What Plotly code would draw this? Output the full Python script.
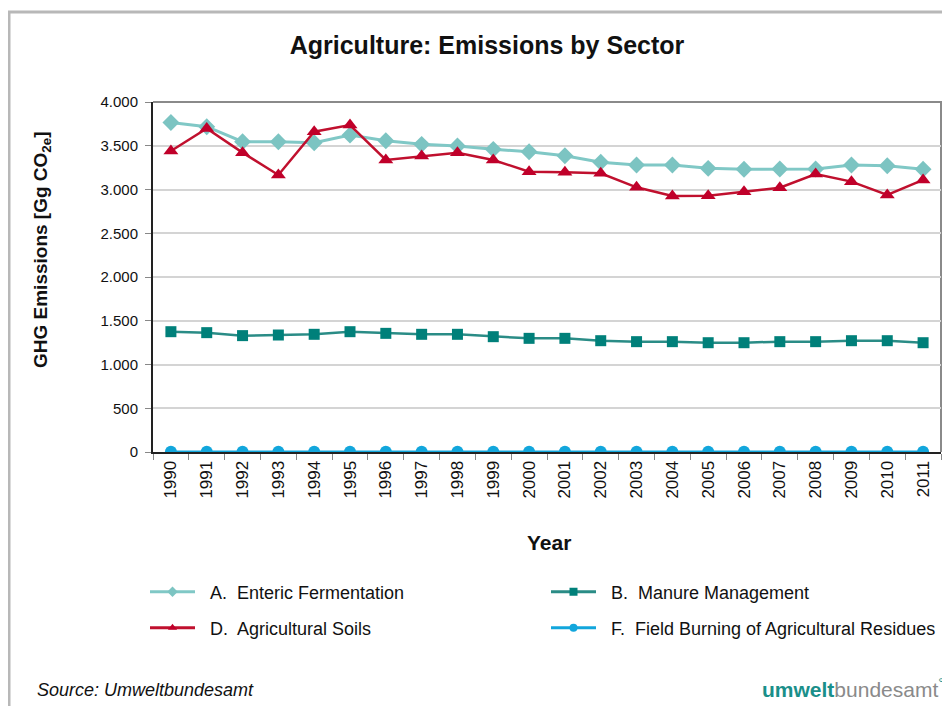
import plotly.graph_objects as go

years = [str(y) for y in range(1990, 2012)]

enteric = [3765, 3718, 3546, 3546, 3535, 3623, 3558, 3516, 3497, 3459, 3432,
           3385, 3311, 3280, 3280, 3242, 3231, 3234, 3234, 3280, 3272, 3231]
manure = [1375, 1364, 1330, 1337, 1345, 1375, 1356, 1345, 1345, 1318, 1299,
          1299, 1272, 1261, 1261, 1249, 1249, 1261, 1261, 1272, 1272, 1249]
soils = [3440, 3697, 3421, 3166, 3660, 3737, 3337, 3383, 3421, 3337, 3204,
         3196, 3185, 3025, 2926, 2930, 2975, 3021, 3177, 3090, 2937, 3109]
burning = [4, 4, 4, 3, 4, 4, 3, 3, 3, 3, 3, 3, 3, 3, 3, 3, 3, 3, 3, 3, 3, 3]

names = ["A.  Enteric Fermentation", "B.  Manure Management",
         "D.  Agricultural Soils", "F.  Field Burning of Agricultural Residues"]

FONT = "Liberation Sans, Arial, sans-serif"

# the page has an 8px body margin: reference pixel p -> figure pixel p - 8
OFF = 8
W, H = 950 - OFF, 706 - OFF
L, R, T, B = 153 - OFF, 941 - OFF, 102 - OFF, 452 - OFF
pw, ph = R - L, B - T


def px(x):  # reference pixel -> paper x
    return (x - OFF - L) / pw


def py(y):  # reference pixel -> paper y
    return (B - (y - OFF)) / ph


series = [
    (enteric, names[0], "#80c8c6", "#7cc4c2", "diamond", 13, 3, "legend"),
    (manure, names[1], "#2a8c86", "#00807a", "square", 11, 2.5, "legend"),
    (soils, names[2], "#c0102e", "#c0002a", "triangle-up", 13, 2.5, "legend2"),
    (burning, names[3], "#12a6dc", "#12a6dc", "circle", 12, 2.5, "legend2"),
]

fig = go.Figure()
for vals, name, lc, mc, sym, size, lw, leg in series:
    fig.add_trace(go.Scatter(x=years, y=vals, name=name, mode="lines+markers",
                             line=dict(color=lc, width=lw),
                             marker=dict(symbol=sym, size=size, color=mc),
                             showlegend=False))
# legend entries (small markers as in the reference legend)
for vals, name, lc, mc, sym, size, lw, leg in series:
    fig.add_trace(go.Scatter(x=[None], y=[None], name="\u00a0\u00a0" + name,
                             mode="lines+markers",
                             line=dict(color=lc, width=3),
                             marker=dict(symbol=sym, size=8, color=mc),
                             legend=leg, showlegend=True))

legend_common = dict(orientation="h", xanchor="left", yanchor="middle",
                     font=dict(family=FONT, size=18, color="#111111"),
                     bgcolor="rgba(0,0,0,0)", entrywidth=341, entrywidthmode="pixels",
                     itemwidth=45, traceorder="normal")

fig.update_layout(
    width=W, height=H,
    margin=dict(l=L, r=W - R, t=T, b=H - B, autoexpand=False),
    paper_bgcolor="white", plot_bgcolor="white",
    separators=",.",
    showlegend=True,
    title=dict(text="<b>Agriculture: Emissions by Sector</b>", x=(487 - OFF) / W,
               xref="container", xanchor="center", y=1 - (45 - OFF) / H,
               yref="container", yanchor="middle",
               font=dict(family=FONT, size=25, color="#111111")),
    legend=dict(x=px(145), y=py(592), **legend_common),
    legend2=dict(x=px(145), y=py(628), **legend_common),
    xaxis=dict(type="category", range=[-0.5, 21.5], tickangle=-90,
               tickfont=dict(family=FONT, size=17, color="#111111"),
               showline=True, linecolor="#222222", linewidth=2,
               ticks="outside", tickson="boundaries", ticklen=6, tickcolor="#888888",
               showgrid=False, zeroline=False, automargin=False),
    yaxis=dict(range=[0, 4000], tickvals=list(range(0, 4001, 500)), tickformat=",d",
               tickfont=dict(family=FONT, size=15, color="#111111"),
               ticklabelstandoff=4,
               showline=True, linecolor="#222222", linewidth=2,
               ticks="outside", ticklen=6, tickcolor="#888888",
               showgrid=True, gridcolor="#d4d4d4", gridwidth=2,
               zeroline=False, automargin=False),
)

# plot area top/right border (gray)
fig.add_shape(type="path", xref="paper", yref="paper",
              path="M 0,1 L 1,1 L 1,0", line=dict(color="#8a8a8a", width=2), layer="below")

# outer frame
fig.add_shape(type="path", xref="paper", yref="paper",
              path=f"M {px(9)},{py(720)} L {px(9)},{py(12)} L {px(960)},{py(12)}",
              line=dict(color="#b8b8b8", width=3))

fig.add_annotation(text="<b>GHG Emissions [Gg CO<sub>2e</sub>]</b>", textangle=-90,
                   x=px(42), y=py(250), xref="paper", yref="paper",
                   xanchor="center", yanchor="middle", showarrow=False,
                   font=dict(family=FONT, size=19, color="#111111"))
fig.add_annotation(text="<b>Year</b>", x=px(549), y=py(542), xref="paper", yref="paper",
                   xanchor="center", yanchor="middle", showarrow=False,
                   font=dict(family=FONT, size=21, color="#111111"))
fig.add_annotation(text="<i>Source: Umweltbundesamt</i>", x=px(35), y=py(690),
                   xref="paper", yref="paper", xanchor="left", yanchor="middle",
                   showarrow=False, font=dict(family=FONT, size=18, color="#111111"))
fig.add_annotation(text="<b><span style='color:#1a8f8a'>umwelt</span></b>"
                        "<span style='color:#8a8a8a'>bundesamt</span>"
                        "<sup><span style='color:#1a8f8a'>°</span></sup>",
                   x=px(946), y=py(688), xref="paper", yref="paper",
                   xanchor="right", yanchor="middle", showarrow=False,
                   font=dict(family=FONT, size=21, color="#8a8a8a"))

fig.write_html("out.html")
